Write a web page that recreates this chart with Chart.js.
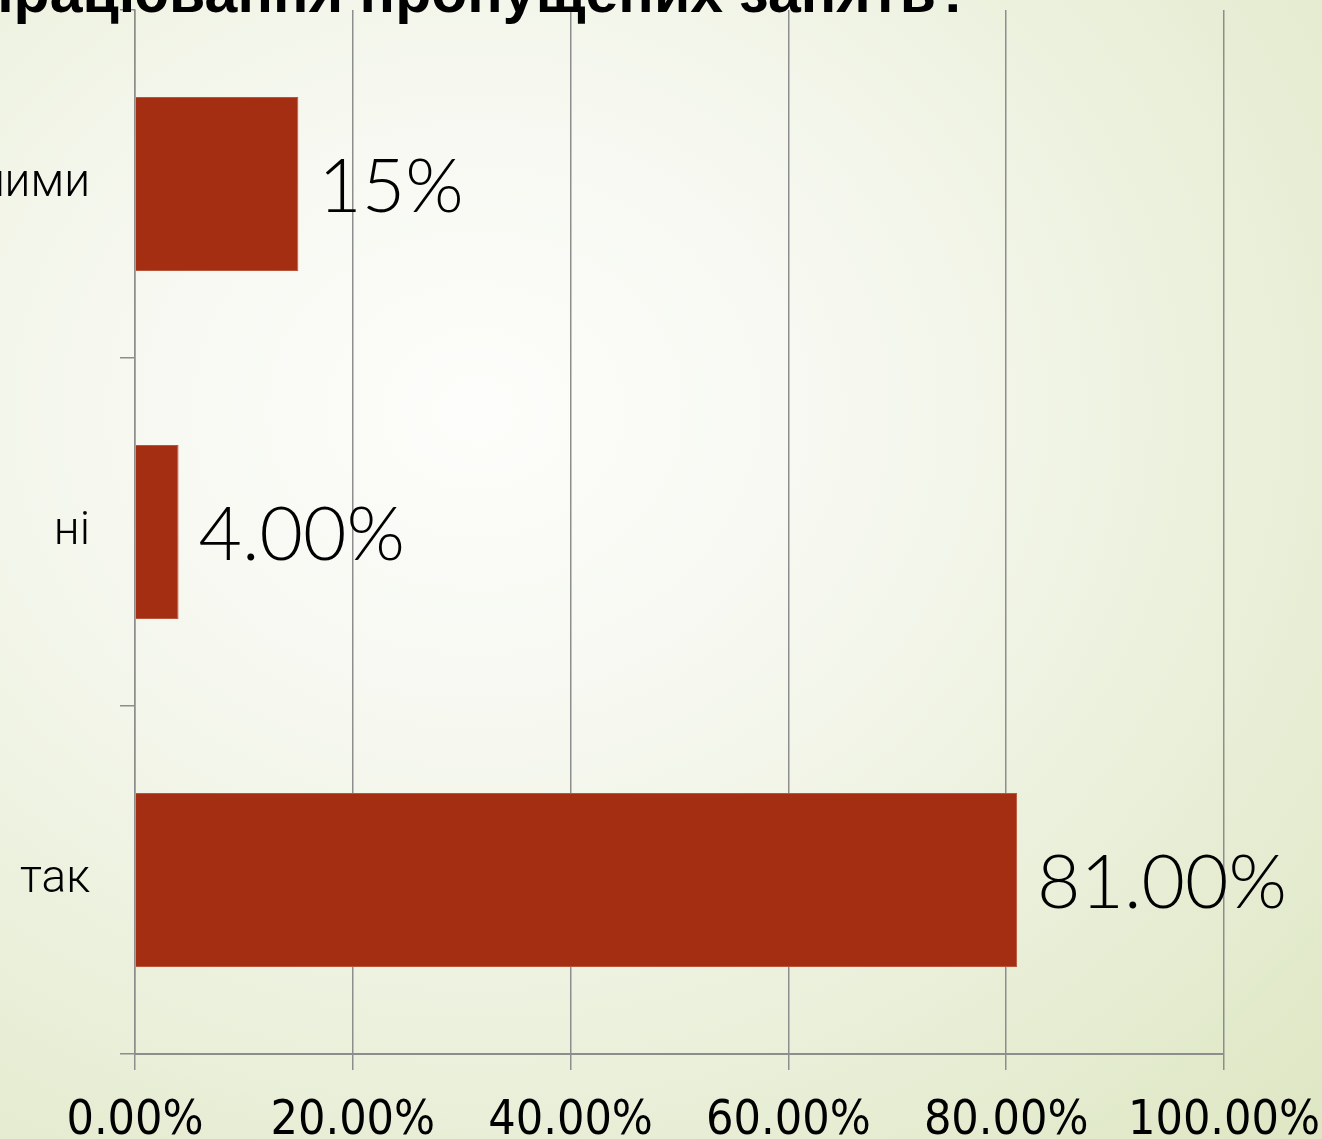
<!DOCTYPE html>
<html lang="uk">
<head>
<meta charset="utf-8">
<title>Відпрацювання пропущених занять</title>
<script src="https://cdn.jsdelivr.net/npm/chart.js@4.4.1/dist/chart.umd.min.js"></script>
<style>
    html, body {
        margin: 0;
        padding: 0;
        overflow: hidden;
    }
    body {
        width: 1322px;
        height: 1139px;
        background: radial-gradient(ellipse 95% 95% at 36% 36%, #fdfdfb 0%, #f6f8f0 30%, #e9efd8 65%, #dce5c0 100%);
    }
    canvas {
        display: block;
    }
</style>
</head>
<body>
<canvas id="surveyChart" width="1322" height="1139"></canvas>
<script>
// Chart data
const categories = ['разом з іншими', 'ні', 'так'];
const percentValues = [15, 4, 81];
const valueLabels = ['15%', '4.00%', '81.00%'];
const titleText = 'Чи потрібна вам допомога для відпрацювання пропущених занять?';

const barColor = '#a32e12';
const gridColor = '#8d8d8d';

// Title sits above the plot, mostly cut off by the top edge of the slide
const titlePlugin = {
    id: 'slideTitle',
    afterDraw(chart) {
        const ctx = chart.ctx;
        ctx.save();
        ctx.font = 'bold 59px "Liberation Sans", Arial, sans-serif';
        ctx.fillStyle = '#000';
        ctx.textAlign = 'right';
        ctx.textBaseline = 'alphabetic';
        ctx.fillText(titleText, 972, 12);
        ctx.restore();
    }
};

// Big value labels to the right of each bar
const valueLabelPlugin = {
    id: 'valueLabels',
    afterDatasetsDraw(chart) {
        const ctx = chart.ctx;
        const meta = chart.getDatasetMeta(0);
        ctx.save();
        ctx.font = '300 75px Lato, "Open Sans", sans-serif';
        ctx.fillStyle = '#000';
        ctx.textAlign = 'left';
        ctx.textBaseline = 'middle';
        meta.data.forEach((bar, i) => {
            ctx.fillText(valueLabels[i], bar.x + 20, bar.y + 4);
        });
        ctx.restore();
    }
};

// keep the plot box where the slide has it
function noScalePadding(scale) {
    scale.paddingLeft = 0;
    scale.paddingRight = 0;
    scale.paddingTop = 0;
    scale.paddingBottom = 0;
}

const ctx = document.getElementById('surveyChart').getContext('2d');
const surveyChart = new Chart(ctx, {
    type: 'bar',
    data: {
        labels: categories,
        datasets: [{
            data: percentValues,
            backgroundColor: barColor,
            borderColor: '#b9553a',
            borderWidth: 1,
            categoryPercentage: 1.0,
            barPercentage: 0.5
        }]
    },
    options: {
        indexAxis: 'y',
        responsive: false,
        animation: false,
        devicePixelRatio: 1,
        layout: {
            padding: { top: 10, right: 98, left: 0, bottom: 0 }
        },
        plugins: {
            legend: { display: false },
            tooltip: { enabled: false },
            title: { display: false }
        },
        scales: {
            x: {
                min: 0,
                max: 100,
                ticks: {
                    stepSize: 20,
                    padding: 23,
                    color: '#000',
                    font: { family: '"Liberation Sans Narrow", "DejaVu Sans Condensed", sans-serif', size: 48 },
                    callback: value => value.toFixed(2) + '%'
                },
                grid: {
                    color: gridColor,
                    lineWidth: 1.5,
                    tickLength: 16
                },
                border: { display: true, color: gridColor, width: 2 },
                afterFit: scale => { scale.height = 85; noScalePadding(scale); }
            },
            y: {
                ticks: {
                    padding: 30,
                    color: '#000',
                    font: { family: 'Roboto, sans-serif', size: 46, weight: '300' }
                },
                grid: {
                    offset: true,
                    drawOnChartArea: false,
                    color: gridColor,
                    lineWidth: 1.5,
                    tickLength: 15
                },
                border: { display: true, color: gridColor, width: 1.5 },
                afterFit: scale => { scale.width = 135; noScalePadding(scale); }
            }
        }
    },
    plugins: [valueLabelPlugin, titlePlugin]
});
</script>
</body>
</html>
